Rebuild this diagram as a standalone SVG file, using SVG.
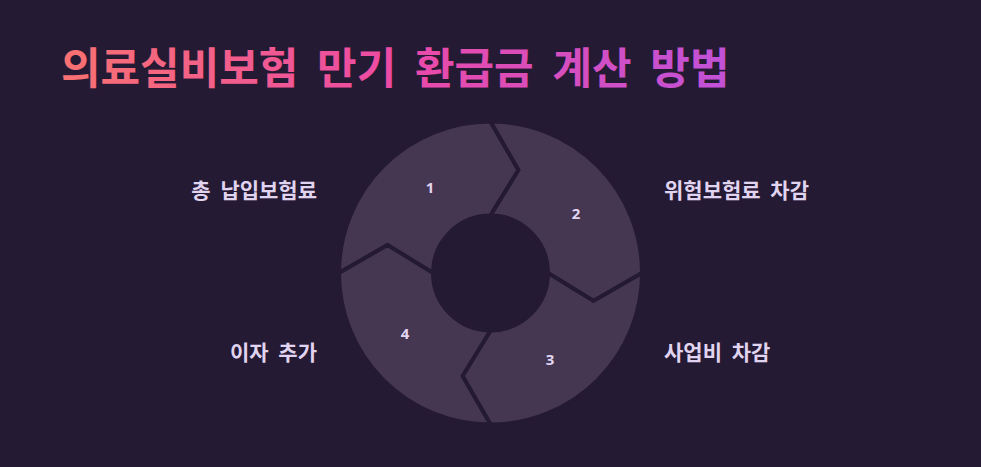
<svg xmlns="http://www.w3.org/2000/svg" width="981" height="467" viewBox="0 0 981 467">
  <defs>
    <linearGradient id="titleGrad" gradientUnits="userSpaceOnUse" x1="63" y1="0" x2="728" y2="0">
      <stop offset="0" stop-color="#f87171"/>
      <stop offset="0.5" stop-color="#ec4aa6"/>
      <stop offset="1" stop-color="#c052d8"/>
    </linearGradient>
    <style>
      .seg { fill: #453752; stroke: #241a33; stroke-width: 4; stroke-linejoin: miter; }
      .num { font-family: "Noto Sans", "Liberation Sans", sans-serif; font-weight: 700; font-size: 15px; fill: #e2d6f2; text-anchor: middle; dominant-baseline: central; }
      .lbl { font-family: "Noto Sans CJK KR", "Noto Sans", sans-serif; font-weight: 700; font-size: 21px; fill: #e0d4f0; word-spacing: 5px; }
      .title { font-family: "Noto Sans CJK KR", "Noto Sans", sans-serif; font-weight: 700; font-size: 43px; fill: url(#titleGrad); word-spacing: 9px; }
    </style>
  </defs>
  <rect x="0" y="0" width="981" height="467" fill="#241a33"/>
  <text class="title" x="61" y="84">의료실비보험 만기 환급금 계산 방법</text>

  <g id="step1">
    <path class="seg" d="M339,273 A151.5,151.5 0 0 1 490.5,121.5 L518.5,170 L490.5,215.5 A57.5,57.5 0 0 0 433,273 L387.5,245 Z"/>
    <text class="num" x="430" y="187">1</text>
    <text class="lbl" x="317" y="198" text-anchor="end">총 납입보험료</text>
  </g>
  <g id="step2">
    <path class="seg" d="M490.5,121.5 A151.5,151.5 0 0 1 642,273 L593.5,301 L548,273 A57.5,57.5 0 0 0 490.5,215.5 L518.5,170 Z"/>
    <text class="num" x="576" y="213">2</text>
    <text class="lbl" x="664" y="198">위험보험료 차감</text>
  </g>
  <g id="step3">
    <path class="seg" d="M642,273 A151.5,151.5 0 0 1 490.5,424.5 L462.5,376 L490.5,330.5 A57.5,57.5 0 0 0 548,273 L593.5,301 Z"/>
    <text class="num" x="550" y="359">3</text>
    <text class="lbl" x="664" y="360">사업비 차감</text>
  </g>
  <g id="step4">
    <path class="seg" d="M490.5,424.5 A151.5,151.5 0 0 1 339,273 L387.5,245 L433,273 A57.5,57.5 0 0 0 490.5,330.5 L462.5,376 Z"/>
    <text class="num" x="405" y="333">4</text>
    <text class="lbl" x="317" y="360" text-anchor="end">이자 추가</text>
  </g>
  <g id="connectors"></g>
</svg>
